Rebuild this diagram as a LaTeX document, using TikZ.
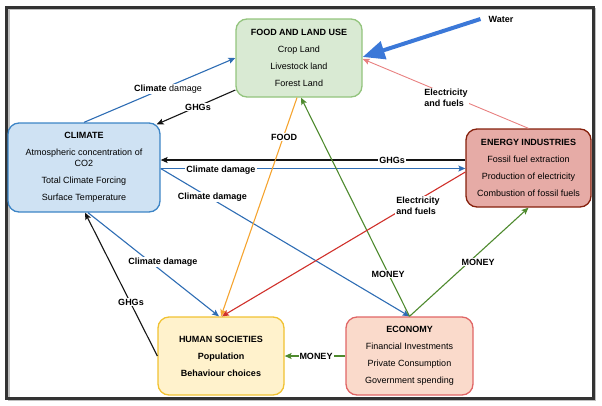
\documentclass[tikz,border=0pt]{standalone}
\usepackage{fontspec}
\setmainfont{Liberation Sans}
\usetikzlibrary{arrows.meta,calc}
\definecolor{bluel}{HTML}{2E6DB4}
\definecolor{greenl}{HTML}{4E8A2E}
\definecolor{redl}{HTML}{D0302A}
\definecolor{pinkl}{HTML}{E88080}
\definecolor{orangel}{HTML}{F5A430}
\definecolor{waterc}{HTML}{3B78D8}
\definecolor{blackl}{HTML}{141414}
\definecolor{foodfill}{HTML}{D9EAD3}
\definecolor{foodline}{HTML}{93C47D}
\definecolor{climfill}{HTML}{CFE2F3}
\definecolor{climline}{HTML}{3D85C6}
\definecolor{enfill}{HTML}{E6ABA6}
\definecolor{enline}{HTML}{85200C}
\definecolor{humfill}{HTML}{FFF2CC}
\definecolor{humline}{HTML}{F1C232}
\definecolor{ecofill}{HTML}{FADACB}
\definecolor{ecoline}{HTML}{E06666}
\definecolor{framec}{HTML}{333333}
\begin{document}
\begin{tikzpicture}[x=1pt,y=-1pt,
  every node/.style={font=\fontsize{9}{11}\selectfont},
  box/.style={draw, rounded corners=11pt, line width=1.3pt, align=center, inner sep=0pt},
  lab/.style={fill=white, inner sep=1pt, font=\fontsize{9}{11}\selectfont\bfseries, align=left},
  conn/.style={line width=1.1pt, -{Stealth[length=7pt,width=6pt,inset=1.5pt]}}
]
\useasboundingbox (0,0) rectangle (602,405);
% frame
\draw[line width=2pt, black!25] (8.5,9) rectangle (595,400);
\draw[line width=3pt, framec] (6.5,7) rectangle (593,398);

% boxes
\node[box, fill=foodfill, draw=foodline, minimum width=126pt, minimum height=78pt] (food) at (299,58)
  {\textbf{FOOD AND LAND USE}\\[6pt] Crop Land\\[6pt] Livestock land\\[6pt] Forest Land};
\node[box, fill=climfill, draw=climline, minimum width=152pt, minimum height=89pt] (climate) at (84,167.5)
  {\textbf{CLIMATE}\\[6pt] Atmospheric concentration of\\ CO2\\[6pt] Total Climate Forcing\\[6pt] Surface Temperature};
\node[box, fill=enfill, draw=enline, minimum width=125pt, minimum height=78pt] (energy) at (528.5,168)
  {\textbf{ENERGY INDUSTRIES}\\[6pt] Fossil fuel extraction\\[6pt] Production of electricity\\[6pt] Combustion of fossil fuels};
\node[box, fill=humfill, draw=humline, minimum width=126pt, minimum height=78pt, font=\fontsize{9}{11}\selectfont\bfseries] (human) at (221,356)
  {HUMAN SOCIETIES\\[6pt] Population\\[6pt] Behaviour choices};
\node[box, fill=ecofill, draw=ecoline, minimum width=127pt, minimum height=78pt] (economy) at (409.5,356)
  {\textbf{ECONOMY}\\[6pt] Financial Investments\\[6pt] Private Consumption\\[6pt] Government spending};
\node[font=\fontsize{9}{11}\selectfont\bfseries, inner sep=0pt] (water) at (501,19) {Water};

% connectors
\draw[conn, bluel] (climate.north) -- (food.west);
\draw[conn, blackl] ([yshift=-32pt]food.west) -- ([xshift=-4pt,yshift=-2pt]climate.north east);
\draw[line width=4pt, waterc, -{Triangle[length=22pt,width=18pt]}] ([xshift=-8pt]water.west) -- ([yshift=1pt]food.east);
\draw[conn, pinkl, line width=0.9pt] (energy.north) -- ([yshift=-1pt]food.east);
\draw[conn, blackl] ([yshift=8pt]energy.west) -- ([yshift=8pt]energy.west -| climate.east);
\draw[conn, bluel] ([yshift=-1pt]climate.east) -- ([yshift=-1pt]climate.east -| energy.west);
\draw[conn, bluel] ([yshift=-1pt]climate.east) -- (economy.north);
\draw[conn, orangel] ([xshift=-2pt]food.south) -- (human.north);
\draw[conn, greenl] (economy.north) -- ([xshift=2pt]food.south);
\draw[conn, greenl] (economy.north) -- (energy.south);
\draw[conn, greenl] (economy.west) -- (human.east);
\draw[conn, redl] ([yshift=-4pt]energy.west) -- ([xshift=1pt]human.north);
\draw[conn, blackl] (human.west) -- ([xshift=1pt]climate.south);
\draw[conn, bluel] ([xshift=4pt]climate.south) -- ([xshift=-2pt]human.north);

% labels
\node[lab] (l1) at (168,89) {Climate \mdseries damage};
\node[lab] (l2) at (198,107) {GHGs};
\node[lab] (l3) at (446,98) {Electricity\\and fuels};
\node[lab] (l4) at (392,160) {GHGs};
\node[lab] (l5) at (221,170) {Climate damage};
\node[lab] (l6) at (212.5,197) {Climate damage};
\node[lab] (l7) at (284,137) {FOOD};
\node[lab] (l8) at (418,206) {Electricity\\and fuels};
\node[lab] (l9) at (163,262) {Climate damage};
\node[lab] (l10) at (131,302) {GHGs};
\node[lab] (l11) at (388,274) {MONEY};
\node[lab] (l12) at (478,262) {MONEY};
\node[lab] (l13) at (316,356) {MONEY};
\end{tikzpicture}
\end{document}
